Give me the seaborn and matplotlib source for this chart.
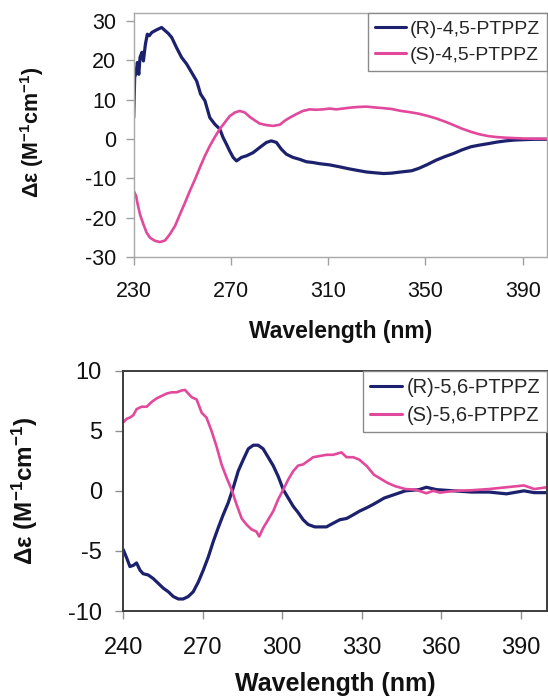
import numpy as np
import pandas as pd
import matplotlib
matplotlib.use("Agg")
import matplotlib.pyplot as plt
import seaborn as sns

# ---------------- data ----------------
top_r_wl = [230.0, 230.4, 231.0, 231.5, 232.1, 232.6, 233.4, 234.0, 234.8, 235.6, 236.4, 237.4,
            238.8, 240.1, 241.5, 242.9, 244.2, 245.6, 247.6, 249.7, 251.8, 253.8, 255.9, 257.5,
            259.3, 261.3, 263.4, 265.4, 266.8, 268.2, 269.5, 270.9, 272.3, 274.3, 276.4, 279.1,
            281.8, 284.6, 286.6, 288.7, 290.7, 292.8, 295.5, 298.3, 301.0, 303.7, 306.5, 310.6,
            314.7, 318.5, 322.0, 325.7, 329.0, 332.8, 336.0, 340.0, 344.3, 347.2, 350.5, 354.4,
            358.0, 361.6, 365.0, 368.7, 372.0, 375.9, 379.5, 383.1, 386.5, 390.3, 395.0, 400.0]
top_r_de = [5.4, 15.6, 16.9, 19.4, 16.4, 20.7, 22.0, 19.8, 24.0, 26.6, 26.2, 27.0,
            27.5, 27.9, 28.3, 27.5, 26.8, 25.8, 23.2, 20.7, 19.0, 16.9, 14.7, 11.4,
            9.7, 5.4, 3.7, 2.5, 0.3, -1.4, -3.1, -4.7, -5.6, -4.7, -4.3, -3.5,
            -2.2, -0.9, -0.5, -0.9, -2.6, -3.9, -4.7, -5.2, -5.8, -6.0, -6.3, -6.6,
            -7.1, -7.6, -8.0, -8.4, -8.6, -8.8, -8.7, -8.4, -8.1, -7.5, -6.6, -5.4,
            -4.5, -3.7, -2.8, -2.0, -1.6, -1.2, -0.8, -0.5, -0.3, -0.2, -0.1, -0.1]

top_s_wl = [230.0, 231.0, 231.5, 232.6, 234.0, 235.3, 236.7, 238.8, 240.8, 242.9, 244.9, 247.0,
            249.0, 251.1, 253.1, 255.2, 257.2, 259.3, 261.3, 263.4, 265.4, 267.5, 269.5, 271.6,
            273.6, 275.7, 277.7, 279.8, 281.8, 284.6, 287.3, 290.1, 292.1, 294.2, 296.9, 299.6,
            302.4, 305.1, 307.8, 310.6, 313.3, 316.0, 318.5, 322.0, 325.7, 329.0, 332.8, 336.0,
            340.0, 343.5, 347.2, 350.5, 354.4, 358.0, 361.6, 365.0, 368.7, 372.0, 375.9, 379.5,
            383.1, 386.5, 390.3, 395.0, 400.0]
top_s_de = [-13.2, -14.5, -16.2, -19.2, -21.7, -23.8, -25.1, -25.9, -26.2, -25.8, -24.2, -22.1,
            -19.2, -16.2, -13.2, -10.3, -7.3, -4.3, -1.8, 0.5, 2.5, 4.2, 5.8, 6.7,
            7.1, 6.7, 5.6, 4.7, 3.9, 3.5, 3.3, 3.6, 4.6, 5.4, 6.3, 7.1,
            7.5, 7.4, 7.5, 7.7, 7.5, 7.7, 7.9, 8.1, 8.2, 8.0, 7.8, 7.6,
            7.1, 6.8, 6.4, 5.9, 5.2, 4.4, 3.5, 2.6, 1.8, 1.2, 0.7, 0.45,
            0.3, 0.2, 0.1, 0.05, 0.0]

bot_r_wl = [240.0, 241.3, 242.5, 243.8, 245.0, 246.3, 247.5, 249.4, 251.3, 253.2, 255.1, 257.0,
            258.9, 260.8, 262.6, 264.5, 266.4, 268.3, 270.2, 272.1, 274.0, 275.8, 277.7, 279.6,
            281.5, 283.4, 285.3, 287.2, 289.1, 290.9, 292.8, 294.7, 296.6, 298.5, 300.4, 302.3,
            304.2, 306.0, 307.9, 309.8, 312.3, 314.8, 316.7, 319.2, 321.8, 324.3, 326.8, 329.1,
            332.0, 334.6, 338.5, 342.5, 346.5, 351.7, 354.4, 358.3, 364.9, 371.5, 378.1, 384.7,
            391.3, 395.2, 400.0]
bot_r_de = [-4.9, -5.6, -6.3, -6.2, -6.0, -6.6, -6.9, -7.0, -7.3, -7.7, -8.1, -8.4,
            -8.8, -9.0, -9.0, -8.8, -8.4, -7.6, -6.6, -5.5, -4.2, -3.1, -2.0, -1.0,
            0.25, 1.65, 2.6, 3.5, 3.8, 3.8, 3.5, 2.8, 2.1, 1.2, 0.1, -0.6,
            -1.3, -1.8, -2.4, -2.8, -3.0, -3.0, -3.0, -2.7, -2.4, -2.3, -2.0, -1.7,
            -1.4, -1.1, -0.6, -0.3, 0.0, 0.1, 0.3, 0.1, 0.0, -0.1, -0.1, -0.25,
            0.0, -0.15, -0.15]

bot_s_wl = [240.0, 241.3, 242.5, 243.8, 245.0, 246.9, 248.8, 250.7, 252.6, 254.5, 256.4, 258.2,
            260.1, 262.0, 263.3, 264.5, 265.8, 267.7, 269.6, 271.4, 273.3, 275.2, 277.1, 279.0,
            280.9, 282.8, 284.7, 286.5, 288.4, 290.3, 291.3, 292.8, 294.7, 296.6, 298.5, 300.4,
            302.3, 304.2, 306.0, 307.9, 309.8, 311.7, 314.2, 316.7, 319.2, 322.4, 324.3, 326.8,
            329.1, 332.0, 334.6, 337.2, 339.9, 342.5, 346.5, 350.4, 354.4, 357.0, 359.6, 364.9,
            371.5, 378.1, 384.7, 391.3, 395.2, 400.0]
bot_s_de = [5.7, 6.0, 6.1, 6.3, 6.8, 7.0, 7.0, 7.4, 7.7, 7.9, 8.1, 8.2,
            8.2, 8.35, 8.4, 8.1, 7.8, 7.6, 6.5, 6.1, 5.0, 3.7, 2.2, 1.1,
            0.1, -1.15, -2.3, -2.8, -3.2, -3.4, -3.8, -3.1, -2.4, -1.7, -0.7, 0.1,
            0.95, 1.65, 2.1, 2.2, 2.5, 2.8, 2.9, 3.0, 3.0, 3.2, 2.8, 2.8,
            2.6, 2.05, 1.35, 1.0, 0.65, 0.4, 0.15, 0.1, -0.2, 0.0, -0.15, 0.0,
            0.05, 0.15, 0.3, 0.45, 0.15, 0.3]

top_labels = ["(R)-4,5-PTPPZ", "(S)-4,5-PTPPZ"]
bot_labels = ["(R)-5,6-PTPPZ", "(S)-5,6-PTPPZ"]
top_xticks = [230, 270, 310, 350, 390]
top_yticks = [-30, -20, -10, 0, 10, 20, 30]
bot_xticks = [240, 270, 300, 330, 360, 390]
bot_yticks = [-10, -5, 0, 5, 10]

# ---------------- style ----------------
sns.set_theme(style="ticks")
plt.rcParams["font.family"] = ["Liberation Sans", "DejaVu Sans"]
plt.rcParams["axes.unicode_minus"] = False
plt.rcParams["mathtext.fontset"] = "custom"
plt.rcParams["mathtext.rm"] = "Liberation Sans"
plt.rcParams["mathtext.bf"] = "Liberation Sans:bold"
plt.rcParams["mathtext.it"] = "Liberation Sans:italic"

BLUE = "#1c216e"
PINK = "#e2489b"

fig = plt.figure(figsize=(5.48, 6.98), dpi=100)
W, H = 548, 698


def add_axes(l, t, r, b):
    return fig.add_axes([l / W, 1 - b / H, (r - l) / W, (b - t) / H])


ax1 = add_axes(133.7, 13.3, 547, 257)
ax2 = add_axes(123.3, 370.7, 547, 611)

df_top = pd.concat([
    pd.DataFrame({"wl": top_r_wl, "de": top_r_de, "s": top_labels[0]}),
    pd.DataFrame({"wl": top_s_wl, "de": top_s_de, "s": top_labels[1]}),
])
df_bot = pd.concat([
    pd.DataFrame({"wl": bot_r_wl, "de": bot_r_de, "s": bot_labels[0]}),
    pd.DataFrame({"wl": bot_s_wl, "de": bot_s_de, "s": bot_labels[1]}),
])

sns.lineplot(data=df_top, x="wl", y="de", hue="s", palette=[BLUE, PINK],
             estimator=None, ax=ax1, linewidth=2.0)
sns.lineplot(data=df_bot, x="wl", y="de", hue="s", palette=[BLUE, PINK],
             estimator=None, ax=ax2, linewidth=2.0)
for ax in (ax1, ax2):
    ax.lines[0].set_linewidth(2.3)
    ax.lines[1].set_linewidth(1.9)

ylab_top = r"Δε (M$^{\mathbf{-1}}$cm$^{\mathbf{-1}}$)"
ylab_bot = r"Δε (M$^{\mathbf{-1}}$cm$^{\mathbf{-1}}$)"

# top panel
ax1.set_xlim(230, 400)
ax1.set_ylim(-30, 31.9)
ax1.set_xticks(top_xticks)
ax1.set_yticks(top_yticks)
for sp in ax1.spines.values():
    sp.set_color("#a8a8a8")
    sp.set_linewidth(1.0)
ax1.tick_params(axis="both", direction="out", length=5.5, width=1.0, color="#a0a0a0",
                labelsize=15.5, labelcolor="#111111")
ax1.tick_params(axis="x", pad=12)
ax1.tick_params(axis="y", pad=7)
ax1.set_xlabel("Wavelength (nm)", fontsize=16.5, fontweight="bold", color="#111111")
ax1.set_ylabel(ylab_top, fontsize=15.5, fontweight="bold", color="#111111")
ax1.xaxis.set_label_coords(0.5, (257 - 320) / (257 - 13.3))
ax1.yaxis.set_label_coords((46 - 133.7) / (547 - 133.7), (257 - 132) / (257 - 13.3))

# bottom panel
ax2.set_xlim(240, 400)
ax2.set_ylim(-10, 10)
ax2.set_xticks(bot_xticks)
ax2.set_yticks(bot_yticks)
for sp in ax2.spines.values():
    sp.set_color("#3c3c3c")
    sp.set_linewidth(1.4)
ax2.tick_params(axis="both", direction="out", length=5.5, width=1.0, color="#909090",
                labelsize=17, labelcolor="#111111")
ax2.tick_params(axis="x", pad=13)
ax2.tick_params(axis="y", pad=10)
ax2.set_xlabel("Wavelength (nm)", fontsize=18, fontweight="bold", color="#111111")
ax2.set_ylabel(ylab_bot, fontsize=17.5, fontweight="bold", color="#111111")
ax2.xaxis.set_label_coords(0.5, (611 - 672) / (611 - 370.7))
ax2.yaxis.set_label_coords((40 - 123.3) / (547 - 123.3), 0.5)

for ax, fs in ((ax1, 14), (ax2, 14.5)):
    leg = ax.legend(loc="upper right", borderaxespad=0, frameon=True, fancybox=False,
                    fontsize=fs, handlelength=1.6, handletextpad=0.2, borderpad=0.35,
                    labelspacing=0.45, title=None)
    leg.get_frame().set_edgecolor("#8a8a8a")
    leg.get_frame().set_linewidth(1.0)
    leg.get_frame().set_alpha(1)
    for h in leg.get_lines():
        h.set_linewidth(2.2)

fig.savefig("out.png", dpi=100)
